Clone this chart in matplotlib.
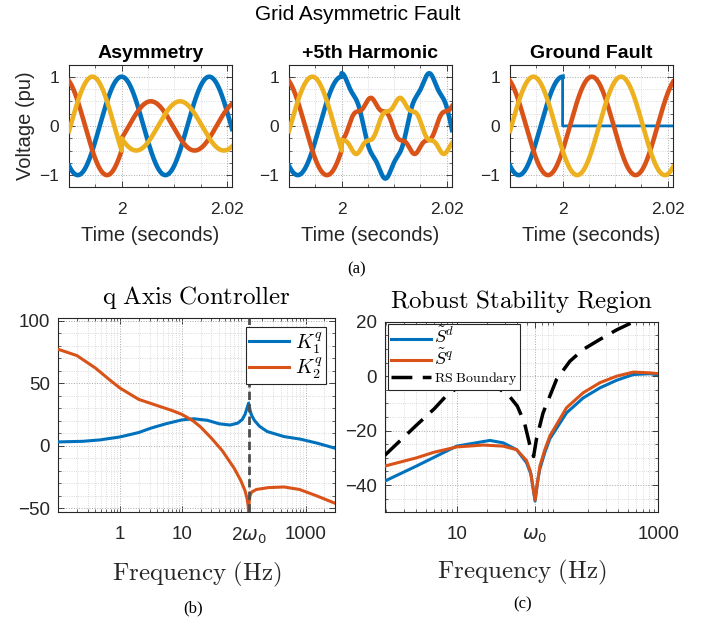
import numpy as np
import matplotlib
matplotlib.use('Agg')
import matplotlib.pyplot as plt
from matplotlib.ticker import MultipleLocator, FixedLocator, FixedFormatter, LogLocator, NullFormatter

plt.rcParams['font.family'] = ['Liberation Sans', 'DejaVu Sans']

C_BLUE, C_RED, C_YEL = '#0072BD', '#D95319', '#EDB120'

# ---- (a) grid voltages: phase a, b, c (amplitudes)
f_grid = 60.0
t_fault = 2.0
t_lim = (1.99, 2.021)
phase_deg = [0, -120, 120]
amp_pre = [1.0, 1.0, 1.0]
panel_titles = ['Asymmetry', '+5th Harmonic', 'Ground Fault']
amp_post = [[1.0, 0.5, 0.5], [1.0, 0.5, 0.5], [0.0, 1.0, 1.0]]
h5_post = [0.0, 0.07, 0.0]

# ---- (b) q axis controller, gain vs frequency (Hz)
k1_freq = [0.1, 0.25, 0.47, 1.0, 2.0, 3.1, 5.5, 10, 15.5, 25.7, 40, 60, 80, 95, 105, 113, 120,
           127, 135, 150, 180, 240, 447, 830, 1550, 3000]
k1_val = [3.0, 3.5, 4.6, 7.0, 10.5, 13.9, 17.5, 20.6, 21.5, 20.3, 17.5, 16.5, 18.0, 21.0, 25.0,
          30.0, 34.0, 28.0, 24.0, 20.0, 15.5, 11.3, 7.3, 5.2, 2.0, -2.0]
k2_freq = [0.1, 0.2, 0.4, 0.7, 1.0, 2.0, 4.0, 7.0, 10, 15, 20, 30, 45, 70, 90, 105, 113, 118, 120,
           122, 126, 135, 160, 250, 450, 800, 1500, 3000]
k2_val = [77, 72, 62, 52, 46, 37, 32, 28, 25, 20, 15, 6, -4, -18, -28, -36, -42, -48, -53,
          -46, -40, -37, -35, -33.5, -33, -35, -40, -46]
two_w0 = 120

# ---- (c) robust stability region (dB vs Hz)
sd_freq = [1.95, 4.0, 10, 21.4, 29, 39.4, 49.4, 54.6, 60, 64, 67, 75, 84, 123, 180, 264, 387, 566, 830, 1000]
sd_val = [-38.5, -33, -25.7, -23.6, -24.5, -27, -31.8, -36, -45.9, -38, -34, -28, -23, -13.5, -8,
          -4.3, -1.5, 0.6, 0.9, 0.4]
sq_freq = [1.95, 4.0, 5.9, 10, 18.4, 29, 39.4, 49.4, 54, 60, 64, 67, 75, 84, 123, 180, 264, 387, 566, 830, 1000]
sq_val = [-33, -30, -28, -26, -25.3, -25.7, -27, -31, -35, -45.5, -38, -33, -27, -22, -11.6, -6.1,
          -2.4, 0, 1.5, 1.2, 0.9]
rs_freq = [1.95, 4, 6, 8, 10, 13, 18, 25, 32, 40, 47, 53, 58, 62, 72, 98, 133, 180, 264, 387, 610, 1000]
rs_val = [-29, -18, -12, -7, -4.5, -3, -2.8, -4.2, -6.5, -11, -17, -25, -29.5, -23, -13.5, -1.2,
          5.5, 9.8, 13.5, 17, 20.5, 24]
w0 = 60


def style_axes(ax, xpad, ypad):
    ax.grid(True, which='major', ls=':', lw=0.7, color='#a8a8a8')
    ax.grid(True, which='minor', ls=':', lw=0.6, color='#cfcfcf')
    ax.set_axisbelow(True)
    ax.tick_params(which='both', direction='in', top=True, right=True,
                   colors='#262626', labelcolor='#262626')
    ax.tick_params(which='major', length=4, width=0.6)
    ax.tick_params(which='minor', length=2, width=0.5)
    ax.tick_params(axis='x', which='major', pad=xpad)
    ax.tick_params(axis='y', which='major', pad=ypad)
    for s in ax.spines.values():
        s.set_color('#262626')
        s.set_linewidth(0.8)


fig = plt.figure(figsize=(7.16, 6.21), dpi=100)
fig.text(0.5, 0.977, 'Grid Asymmetric Fault', ha='center', va='center', fontsize=15)

top_left = [0.0964, 0.4036, 0.7123]
colors = [C_BLUE, C_RED, C_YEL]
t = np.linspace(t_lim[0], t_lim[1], 3000)
pre = t < t_fault
for i in range(3):
    ax = fig.add_axes([top_left[i], 0.699, 0.2277, 0.1965])
    th = 2 * np.pi * f_grid * (t - t_fault)
    for k in range(3):
        ph = np.deg2rad(phase_deg[k])
        v_pre = amp_pre[k] * np.cos(th + ph)
        v_post = amp_post[i][k] * np.cos(th + ph) + h5_post[i] * np.cos(5 * (th + ph))
        if i == 2 and k == 0:
            ax.plot(t[pre], v_pre[pre], color=colors[k], lw=3.3, zorder=3)
            ax.plot(np.r_[t_fault, t_fault, t[~pre]], np.r_[1.0, 0.0, v_post[~pre]],
                    color=colors[k], lw=2.0, zorder=3)
        else:
            v = np.where(pre, v_pre, v_post)
            ax.plot(t, v, color=colors[k], lw=3.3, zorder=3 + k)
    ax.set_xlim(*t_lim)
    ax.set_ylim(-1.24, 1.24)
    ax.xaxis.set_major_locator(FixedLocator([2.0, 2.02]))
    ax.xaxis.set_major_formatter(FixedFormatter(['2', '2.02']))
    ax.xaxis.set_minor_locator(MultipleLocator(0.005))
    ax.yaxis.set_major_locator(FixedLocator([-1, 0, 1]))
    ax.yaxis.set_minor_locator(MultipleLocator(0.25))
    style_axes(ax, 11, 7)
    ax.tick_params(labelsize=12.5)
    ax.set_title(panel_titles[i], fontsize=14, fontweight='bold', pad=5)
    ax.set_xlabel('Time (seconds)', fontsize=14.5, labelpad=6, color='#262626')
    if i == 0:
        ax.set_ylabel('Voltage (pu)', fontsize=14.5, labelpad=3, color='#262626')

fig.text(0.498, 0.567, '(a)', ha='center', va='center', fontsize=12, family='Liberation Serif')

# ---- (b)
axb = fig.add_axes([0.0814, 0.1755, 0.3865, 0.3124])
axb.semilogx(k1_freq, k1_val, color=C_BLUE, lw=2.2, label=r'$K_1^q$', zorder=3)
axb.semilogx(k2_freq, k2_val, color=C_RED, lw=2.2, label=r'$K_2^q$', zorder=3)
axb.axvline(two_w0, color='#4d4d4d', lw=2.0, ls=(0, (3, 1.5)), zorder=4)
axb.set_xlim(0.1, 3000)
axb.set_ylim(-53, 102)
axb.xaxis.set_major_locator(FixedLocator([1, 10, two_w0, 1000]))
axb.xaxis.set_major_formatter(FixedFormatter(['1', '10', r'2$\omega_0$', '1000']))
axb.xaxis.set_minor_locator(LogLocator(base=10, subs=np.arange(2, 10)))
axb.xaxis.set_minor_formatter(NullFormatter())
axb.yaxis.set_major_locator(FixedLocator([-50, 0, 50, 100]))
axb.yaxis.set_minor_locator(MultipleLocator(10))
style_axes(axb, 10, 6)
axb.tick_params(labelsize=13.5)
axb.set_title(r'$\mathrm{q\ Axis\ Controller}$', fontsize=18, pad=10, math_fontfamily='cm')
axb.set_xlabel(r'$\mathrm{Frequency\ (Hz)}$', fontsize=18, labelpad=10, math_fontfamily='cm',
               color='#262626')
legb = axb.legend(loc='upper right', fontsize=14.5, handlelength=2.0, borderpad=0.15,
                  labelspacing=0.0, handletextpad=0.3, fancybox=False, framealpha=1,
                  edgecolor='#262626', borderaxespad=0.45)
legb.get_frame().set_linewidth(0.8)
for tx in legb.get_texts():
    tx.set_math_fontfamily('cm')

fig.text(0.27, 0.021, '(b)', ha='center', va='center', fontsize=12, family='Liberation Serif')

# ---- (c)
axc = fig.add_axes([0.5377, 0.175, 0.3817, 0.307])
axc.semilogx(sd_freq, sd_val, color=C_BLUE, lw=2.2, label=r'$\tilde{S}^d$', zorder=3)
axc.semilogx(sq_freq, sq_val, color=C_RED, lw=2.2, label=r'$\tilde{S}^q$', zorder=3)
axc.semilogx(rs_freq, rs_val, color='black', lw=2.5, ls=(0, (6, 3)),
             label=r'$\mathrm{RS\ Boundary}$', zorder=3)
axc.set_xlim(1.95, 1000)
axc.set_ylim(-50, 20)
axc.xaxis.set_major_locator(FixedLocator([10, w0, 1000]))
axc.xaxis.set_major_formatter(FixedFormatter(['10', r'$\omega_0$', '1000']))
axc.xaxis.set_minor_locator(LogLocator(base=10, subs=np.arange(2, 10)))
axc.xaxis.set_minor_formatter(NullFormatter())
axc.yaxis.set_major_locator(FixedLocator([-40, -20, 0, 20]))
axc.yaxis.set_minor_locator(MultipleLocator(5))
style_axes(axc, 10, 6)
axc.tick_params(labelsize=13.5)
axc.set_title(r'$\mathrm{Robust\ Stability\ Region}$', fontsize=18, pad=10, math_fontfamily='cm')
axc.set_xlabel(r'$\mathrm{Frequency\ (Hz)}$', fontsize=18, labelpad=10, math_fontfamily='cm',
               color='#262626')
legc = axc.legend(loc='upper left', fontsize=10, handlelength=2.9, borderpad=0.2,
                  labelspacing=0.1, handletextpad=0.2, fancybox=False, framealpha=1,
                  edgecolor='#262626', borderaxespad=0.2)
legc.get_frame().set_linewidth(0.8)
for j, tx in enumerate(legc.get_texts()):
    tx.set_math_fontfamily('cm')
    if j < 2:
        tx.set_fontsize(13)

fig.text(0.730, 0.026, '(c)', ha='center', va='center', fontsize=12, family='Liberation Serif')

fig.savefig('out.png', dpi=100)
